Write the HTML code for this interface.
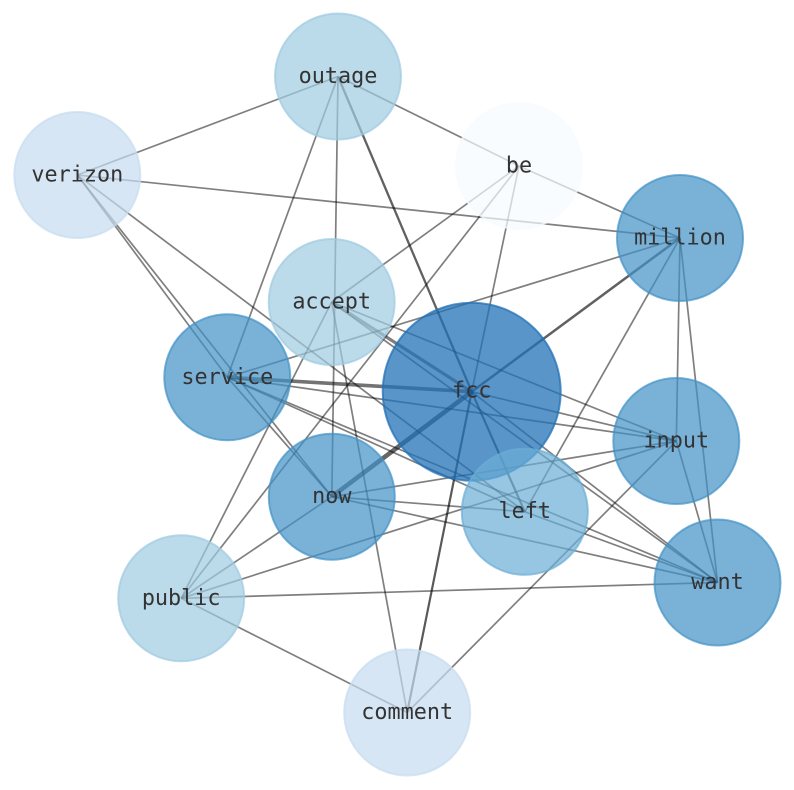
<!DOCTYPE html>
<html><head><meta charset="utf-8"><style>
html,body{margin:0;padding:0;background:#fff;}
svg{display:block;}
text{font-family:"DejaVu Sans Mono","Liberation Mono",monospace;font-size:21.8px;fill:#333;text-anchor:middle;}
</style></head><body>
<svg width="794" height="790" viewBox="0 0 794 790" xmlns="http://www.w3.org/2000/svg">
<rect width="794" height="790" fill="#fff"/>
<g stroke="#000" stroke-linecap="butt" fill="none">
<g stroke-width="1.7" stroke-opacity="0.5">
<line x1="338" y1="76.5" x2="77.3" y2="175"/>
<line x1="338" y1="76.5" x2="519" y2="166"/>
<line x1="519" y1="166" x2="680" y2="238"/>
<line x1="338" y1="76.5" x2="227.3" y2="377.3"/>
<line x1="338" y1="76.5" x2="331.8" y2="496.7"/>
<line x1="77.3" y1="175" x2="680" y2="238"/>
<line x1="77.3" y1="175" x2="227.3" y2="377.3"/>
<line x1="77.3" y1="175" x2="331.8" y2="496.7"/>
<line x1="77.3" y1="175" x2="524.8" y2="511.8"/>
<line x1="519" y1="166" x2="331.7" y2="302"/>
<line x1="519" y1="166" x2="181.2" y2="598.3"/>
<line x1="519" y1="166" x2="471.7" y2="391.7"/>
<line x1="680" y1="238" x2="227.3" y2="377.3"/>
<line x1="680" y1="238" x2="524.8" y2="511.8"/>
<line x1="680" y1="238" x2="676.3" y2="441"/>
<line x1="680" y1="238" x2="717.5" y2="582.5"/>
<line x1="331.7" y1="302" x2="717.5" y2="582.5"/>
<line x1="331.7" y1="302" x2="676.3" y2="441"/>
<line x1="331.7" y1="302" x2="181.2" y2="598.3"/>
<line x1="331.7" y1="302" x2="407.2" y2="712.5"/>
<line x1="227.3" y1="377.3" x2="676.3" y2="441"/>
<line x1="227.3" y1="377.3" x2="524.8" y2="511.8"/>
<line x1="227.3" y1="377.3" x2="717.5" y2="582.5"/>
<line x1="227.3" y1="377.3" x2="331.8" y2="496.7"/>
<line x1="471.7" y1="391.7" x2="676.3" y2="441"/>
<line x1="471.7" y1="391.7" x2="717.5" y2="582.5"/>
<line x1="331.8" y1="496.7" x2="676.3" y2="441"/>
<line x1="331.8" y1="496.7" x2="524.8" y2="511.8"/>
<line x1="331.8" y1="496.7" x2="717.5" y2="582.5"/>
<line x1="331.8" y1="496.7" x2="181.2" y2="598.3"/>
<line x1="676.3" y1="441" x2="181.2" y2="598.3"/>
<line x1="181.2" y1="598.3" x2="717.5" y2="582.5"/>
<line x1="181.2" y1="598.3" x2="407.2" y2="712.5"/>
<line x1="676.3" y1="441" x2="717.5" y2="582.5"/>
<line x1="676.3" y1="441" x2="407.2" y2="712.5"/>
<line x1="524.8" y1="511.8" x2="717.5" y2="582.5"/>
</g>
<line x1="338" y1="76.5" x2="471.7" y2="391.7" stroke-width="2.3" stroke-opacity="0.62"/>
<line x1="680" y1="238" x2="471.7" y2="391.7" stroke-width="2.5" stroke-opacity="0.62"/>
<line x1="331.7" y1="302" x2="471.7" y2="391.7" stroke-width="3.2" stroke-opacity="0.5"/>
<line x1="227.3" y1="377.3" x2="471.7" y2="391.7" stroke-width="3.6" stroke-opacity="0.55"/>
<line x1="471.7" y1="391.7" x2="331.8" y2="496.7" stroke-width="4.6" stroke-opacity="0.6"/>
<line x1="471.7" y1="391.7" x2="524.8" y2="511.8" stroke-width="2.2" stroke-opacity="0.6"/>
<line x1="471.7" y1="391.7" x2="407.2" y2="712.5" stroke-width="2.2" stroke-opacity="0.65"/>
</g>
<g stroke-width="2" fill-opacity="0.7" stroke-opacity="0.7">
<circle cx="338" cy="76.5" r="63" fill="#9ecae1" stroke="#9ecae1"/>
<circle cx="77.3" cy="175" r="63" fill="#c6dbef" stroke="#c6dbef"/>
<circle cx="519" cy="166" r="63" fill="#f7fbff" stroke="#f7fbff"/>
<circle cx="680" cy="238" r="63" fill="#4292c6" stroke="#4292c6"/>
<circle cx="331.7" cy="302" r="63" fill="#9ecae1" stroke="#9ecae1"/>
<circle cx="227.3" cy="377.3" r="63" fill="#4292c6" stroke="#4292c6"/>
<circle cx="471.7" cy="391.7" r="89" fill="#2171b5" stroke="#2171b5" fill-opacity="0.75" stroke-opacity="0.75"/>
<circle cx="676.3" cy="441" r="63" fill="#4292c6" stroke="#4292c6"/>
<circle cx="331.8" cy="496.7" r="63" fill="#4292c6" stroke="#4292c6"/>
<circle cx="524.8" cy="511.8" r="63" fill="#6baed6" stroke="#6baed6"/>
<circle cx="717.5" cy="582.5" r="63" fill="#4292c6" stroke="#4292c6"/>
<circle cx="181.2" cy="598.3" r="63" fill="#9ecae1" stroke="#9ecae1"/>
<circle cx="407.2" cy="712.5" r="63" fill="#c6dbef" stroke="#c6dbef"/>
</g>
<g>
<text x="338" y="83">outage</text>
<text x="77.3" y="181.5">verizon</text>
<text x="519" y="172.5">be</text>
<text x="680" y="244.5">million</text>
<text x="331.7" y="308.5">accept</text>
<text x="227.3" y="383.8">service</text>
<text x="471.7" y="397.5">fcc</text>
<text x="676.3" y="447.5">input</text>
<text x="331.8" y="503">now</text>
<text x="524.8" y="517.8">left</text>
<text x="717.5" y="589">want</text>
<text x="181.2" y="604.8">public</text>
<text x="407.2" y="719">comment</text>
</g>
</svg>
</body></html>
